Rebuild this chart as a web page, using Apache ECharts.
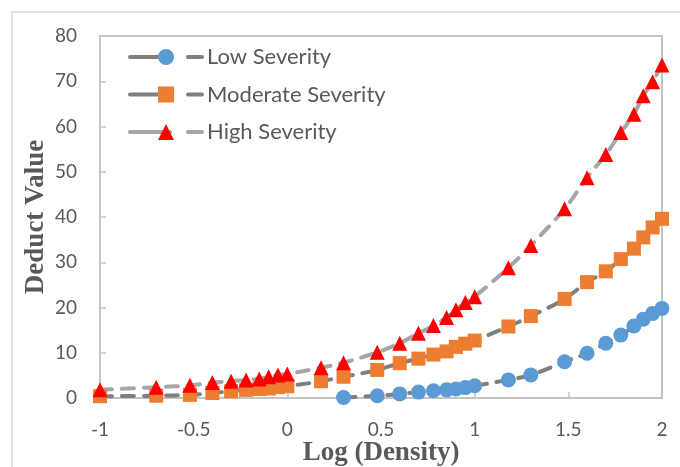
<!DOCTYPE html>
<html>
<head>
<meta charset="utf-8">
<script src="https://cdn.jsdelivr.net/npm/echarts@6/dist/echarts.min.js"></script>
<style>
  html, body { margin: 0; padding: 0; background: #fff; }
  #chart { width: 680px; height: 467px; }
</style>
</head>
<body>
<div id="chart"></div>
<script>
// Log (Density) positions of the measured points
const logDensity = [-1, -0.7, -0.52, -0.4, -0.3, -0.22, -0.15, -0.1, -0.05, 0,
  0.18, 0.3, 0.48, 0.6, 0.7, 0.78, 0.85, 0.9, 0.95, 1,
  1.18, 1.3, 1.48, 1.6, 1.7, 1.78, 1.85, 1.9, 1.95, 2];

// Low severity starts at Log (Density) = 0.3
const lowLogDensity = [0.3, 0.48, 0.6, 0.7, 0.78, 0.85, 0.9, 0.95, 1,
  1.18, 1.3, 1.48, 1.6, 1.7, 1.78, 1.85, 1.9, 1.95, 2];
const lowSeverity = [0.1, 0.5, 0.9, 1.3, 1.6, 1.8, 2.0, 2.3, 2.7,
  4.0, 5.1, 8.0, 9.9, 12.1, 13.9, 15.9, 17.4, 18.7, 19.8];

const moderateSeverity = [0.4, 0.5, 0.7, 1.1, 1.5, 1.8, 2.0, 2.1, 2.4, 2.6,
  3.7, 4.7, 6.2, 7.7, 8.7, 9.6, 10.3, 11.3, 12.0, 12.7,
  15.8, 18.1, 21.9, 25.6, 28.0, 30.7, 33.0, 35.5, 37.7, 39.6];

const highSeverity = [1.8, 2.4, 2.8, 3.4, 3.7, 4.0, 4.2, 4.7, 5.1, 5.3,
  6.7, 7.8, 10.1, 12.1, 14.3, 16.0, 17.8, 19.5, 21.1, 22.4,
  28.8, 33.7, 41.8, 48.7, 53.8, 58.7, 62.7, 66.8, 69.9, 73.6];

const seriesNames = ['Low Severity', 'Moderate Severity', 'High Severity'];
const xTicks = { min: -1, max: 2, interval: 0.5 };
const yTicks = { min: 0, max: 80, interval: 10 };

const pair = (xs, ys) => xs.map((x, i) => [x, ys[i]]);

const textColor = '#595959';
const axisColor = '#c4c4c4';
const labelFont = 'Lato, "Open Sans", sans-serif';
const titleFont = '"Liberation Serif", "DejaVu Serif", serif';

const chart = echarts.init(document.getElementById('chart'), null, { renderer: 'canvas' });

function lineSeries(name, data, symbol, size, color, lineColor) {
  return {
    name: name,
    type: 'line',
    data: data,
    smooth: 0.35,
    symbol: symbol,
    symbolSize: size,
    showAllSymbol: true,
    itemStyle: { color: color, opacity: 1 },
    lineStyle: { color: lineColor, width: 4, type: [12, 10], cap: 'round' },
    emphasis: { disabled: true },
    animation: false
  };
}

chart.setOption({
  backgroundColor: '#ffffff',
  animation: false,
  graphic: [{
    type: 'rect',
    shape: { x: 12, y: 12, width: 700, height: 500 },
    style: { fill: 'none', stroke: '#d9d9d9', lineWidth: 1.5 },
    silent: true
  }],
  grid: {
    left: 100, right: 18, top: 36, bottom: 69,
    containLabel: false,
    outerBoundsMode: 'none',
    show: true, borderColor: axisColor, borderWidth: 2, backgroundColor: 'transparent'
  },
  legend: {
    data: seriesNames,
    orient: 'vertical',
    left: 123,
    top: 41,
    itemWidth: 72,
    itemHeight: 20,
    itemGap: 15.5,
    lineStyle: { type: [40, 18], width: 4, cap: 'round' },
    textStyle: { color: textColor, fontFamily: labelFont, fontSize: 22 }
  },
  xAxis: {
    type: 'value',
    min: xTicks.min, max: xTicks.max, interval: xTicks.interval,
    name: 'Log (Density)',
    nameLocation: 'middle',
    nameGap: 42,
    nameMoveOverlap: false,
    nameTextStyle: { color: textColor, fontFamily: titleFont, fontWeight: 'bold', fontSize: 27 },
    axisLine: { onZero: false, lineStyle: { color: axisColor, width: 2 } },
    axisTick: { show: true, inside: true, length: 6, lineStyle: { color: axisColor, width: 1.5 } },
    axisLabel: { color: textColor, fontFamily: labelFont, fontSize: 19, margin: 22 },
    splitLine: { show: false }
  },
  yAxis: {
    type: 'value',
    min: yTicks.min, max: yTicks.max, interval: yTicks.interval,
    name: 'Deduct Value',
    nameLocation: 'middle',
    nameGap: 50,
    nameMoveOverlap: false,
    nameRotate: 90,
    nameTextStyle: { color: textColor, fontFamily: titleFont, fontWeight: 'bold', fontSize: 27 },
    axisLine: { show: true, onZero: false, lineStyle: { color: axisColor, width: 2 } },
    axisTick: { show: true, inside: true, length: 6, lineStyle: { color: axisColor, width: 1.5 } },
    axisLabel: { color: textColor, fontFamily: labelFont, fontSize: 19, margin: 23 },
    splitLine: { show: false }
  },
  series: [
    lineSeries(seriesNames[0], pair(lowLogDensity, lowSeverity), 'circle', 15, '#5b9bd5', '#7f7f7f'),
    lineSeries(seriesNames[1], pair(logDensity, moderateSeverity), 'rect', 14, '#ed7d31', '#7f7f7f'),
    lineSeries(seriesNames[2], pair(logDensity, highSeverity), 'triangle', 15, '#ff0000', '#a6a6a6')
  ]
});
</script>
</body>
</html>
